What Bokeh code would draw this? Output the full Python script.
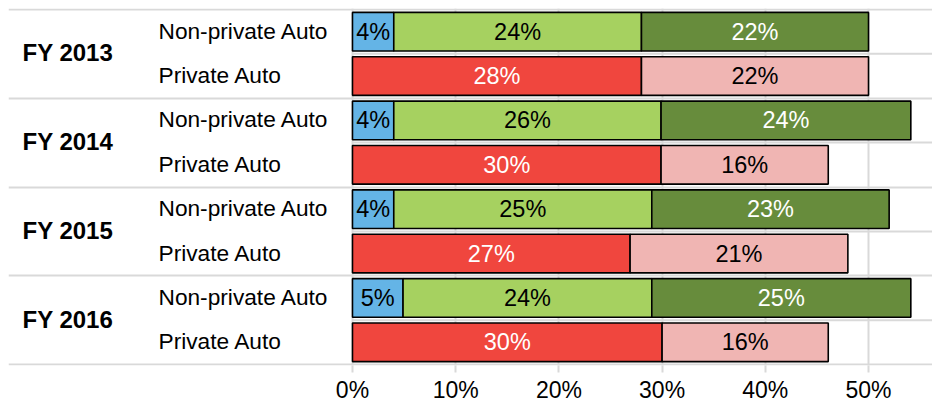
from bokeh.plotting import figure
from bokeh.models import Range1d, FixedTicker, PrintfTickFormatter, ColumnDataSource
from bokeh.core.properties import value
from bokeh.embed import file_html
from bokeh.resources import INLINE

# ---- data ----
years = ["FY 2013", "FY 2014", "FY 2015", "FY 2016"]
subgroups = ["Non-private Auto", "Private Auto"]
nonprivate_a = [4.0, 4.0, 4.0, 4.9]
nonprivate_b = [24.0, 25.9, 25.0, 24.1]
nonprivate_c = [22.0, 24.2, 23.0, 25.1]
private_a = [28.0, 29.9, 26.9, 30.0]
private_b = [22.0, 16.2, 21.1, 16.1]
x_ticks = [0, 10, 20, 30, 40, 50]

# ---- styles ----
FONT = "Liberation Sans"
X_MIN, X_MAX = -33.33, 56.2
GRID = "#D9D9D9"
np_colors = ["#64B4E6", "#A6D160", "#678C3C"]
np_text = ["black", "black", "white"]
pa_colors = ["#F0463E", "#F0B5B3"]
pa_text = ["white", "black"]

p = figure(width=932, height=405, output_backend="svg", toolbar_location=None,
           x_range=Range1d(X_MIN, X_MAX), y_range=Range1d(-7.5225, 0.5225),
           y_axis_location=None, min_border_left=8, min_border_right=0,
           min_border_top=8, min_border_bottom=39)
p.outline_line_color = None
p.background_fill_color = "white"

# grid / axis
p.xaxis.ticker = FixedTicker(ticks=x_ticks)
p.xaxis.formatter = PrintfTickFormatter(format="%d%%")
p.xaxis.axis_line_color = None
p.xaxis.major_tick_line_color = GRID
p.xaxis.major_tick_line_width = 2
p.xaxis.major_tick_out = 7
p.xaxis.major_tick_in = 0
p.xaxis.minor_tick_line_color = None
p.xaxis.major_label_standoff = 4
p.xaxis.major_label_text_font = FONT
p.xaxis.major_label_text_font_size = "23px"
p.xaxis.major_label_text_color = "black"
p.xgrid.grid_line_color = GRID
p.xgrid.grid_line_width = 2
p.ygrid.visible = False

n_rows = len(years) * len(subgroups)
row_y = {}
for g, yr in enumerate(years):
    for s, sub in enumerate(subgroups):
        row_y[(yr, sub)] = -(g * len(subgroups) + s)

# separators
group_lines = [0.5 - g * len(subgroups) for g in range(len(years) + 1)]
sub_lines = [0.5 - r for r in range(n_rows + 1) if r % len(subgroups) != 0]
p.hspan(y=group_lines, line_color=GRID, line_width=2)
p.ray(x=[0] * len(sub_lines), y=sub_lines, length=0, angle=0,
      line_color=GRID, line_width=2)

def stack(yvals, series, colors, tcolors):
    left = [0.0] * len(yvals)
    for vals, c, tc in zip(series, colors, tcolors):
        right = [l + v for l, v in zip(left, vals)]
        src = ColumnDataSource(dict(
            y=yvals, left=left, right=right,
            mid=[(l + r) / 2 for l, r in zip(left, right)],
            label=[f"{round(v)}%" for v in vals]))
        p.hbar(y="y", left="left", right="right", height=0.87, source=src,
               fill_color=c, line_color="black", line_width=1.6)
        p.text(x="mid", y="y", text="label", source=src, text_align="center",
               text_baseline="middle", text_font=value(FONT),
               text_font_size="23.5px", text_color=tc)
        left = right

stack([row_y[(y, subgroups[0])] for y in years],
      [nonprivate_a, nonprivate_b, nonprivate_c], np_colors, np_text)
stack([row_y[(y, subgroups[1])] for y in years],
      [private_a, private_b], pa_colors, pa_text)

# category labels
sub_src = ColumnDataSource(dict(
    x=[X_MIN] * n_rows,
    y=[row_y[(yr, sub)] for yr in years for sub in subgroups],
    t=[sub for yr in years for sub in subgroups]))
p.text(x="x", y="y", text="t", source=sub_src, x_offset=150, y_offset=-1,
       text_align="left", text_baseline="middle", text_font=value(FONT),
       text_font_size="22.7px", text_color="black")

grp_src = ColumnDataSource(dict(
    x=[X_MIN] * len(years),
    y=[sum(row_y[(yr, s)] for s in subgroups) / len(subgroups) for yr in years],
    t=years))
p.text(x="x", y="y", text="t", source=grp_src, x_offset=14, y_offset=-1,
       text_align="left", text_baseline="middle", text_font=value(FONT),
       text_font_size="24px", text_font_style="bold", text_color="black")

open("out.html", "w").write(file_html(p, INLINE))
